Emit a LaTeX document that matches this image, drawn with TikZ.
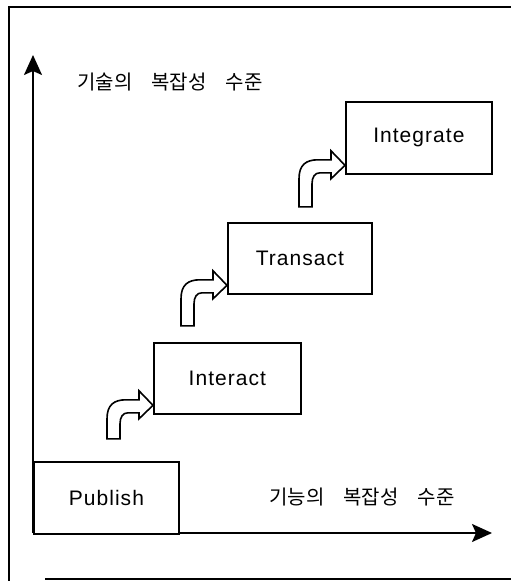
\documentclass[tikz,border=0pt]{standalone}
\usepackage{fontspec}
\setmainfont{Liberation Sans}
\newfontfamily\latfont[LetterSpace=5]{Liberation Sans}
\newfontfamily\krfont{Noto Sans CJK KR}
\usetikzlibrary{arrows.meta}
\tikzset{
  stagebox/.style={draw=black, line width=1.8pt, fill=white, rectangle, inner sep=0pt,
    font=\latfont\fontsize{21}{24}\selectfont},
  axisline/.style={draw=black, line width=1.8pt, -{Stealth[length=20pt,width=18pt,inset=4pt]}},
  framelines/.style={draw=black, line width=1.8pt},
  bentarrow/.style={draw=black, line width=1.6pt, fill=white, line join=miter},
  axislabel/.style={font=\krfont\fontsize{20}{23}\selectfont, inner sep=0pt},
}
\newcommand{\krgap}{\hspace{19pt}}
\newcommand{\bentarrowat}[2]{%
  \begin{scope}[shift={(#1)}]
    \path[bentarrow] (-46,#2) -- (-46,4) .. controls (-46,-10) and (-39,-15) .. (-27,-15)
      -- (-14,-15) -- (-14,-24) -- (0,-9.5) -- (-14,4) -- (-14,-2) -- (-25,-2)
      .. controls (-30,-2) and (-33,2) .. (-33,9) -- (-33,#2) -- cycle;
  \end{scope}}
\begin{document}
\begin{tikzpicture}[x=1pt,y=-1pt]
\useasboundingbox (0,0) rectangle (511,581);
% outer frame
\path[framelines] (511,7) -- (9,7) -- (9,581);
\path[framelines] (45,579) -- (511,579);
% axes
\coordinate (origin) at (33,533);
\coordinate (ytip) at (33,55);
\coordinate (xtip) at (492,533);
\draw[axisline] (origin) -- (ytip);
\draw[axisline] (origin) -- (xtip);
% boxes
\node[stagebox, minimum width=145pt, minimum height=72pt, anchor=north west] (publish) at (33,461) {Publish};
\node[stagebox, minimum width=147pt, minimum height=71pt, anchor=north west] (interact) at (153,342) {Interact};
\node[stagebox, minimum width=144pt, minimum height=71pt, anchor=north west] (transact) at (227,222) {Transact};
\node[stagebox, minimum width=146pt, minimum height=72pt, anchor=north west] (integrate) at (345,101) {Integrate};
% bent arrows
\bentarrowat{interact.south west}{24}
\bentarrowat{transact.south west}{31}
\bentarrowat{integrate.south west}{32}
% axis labels
\node[axislabel, anchor=west] (ylabel) at (77,82) {기술의\krgap 복잡성\krgap 수준};
\node[axislabel, anchor=west] (xlabel) at (269,497) {기능의\krgap 복잡성\krgap 수준};
\end{tikzpicture}
\end{document}
